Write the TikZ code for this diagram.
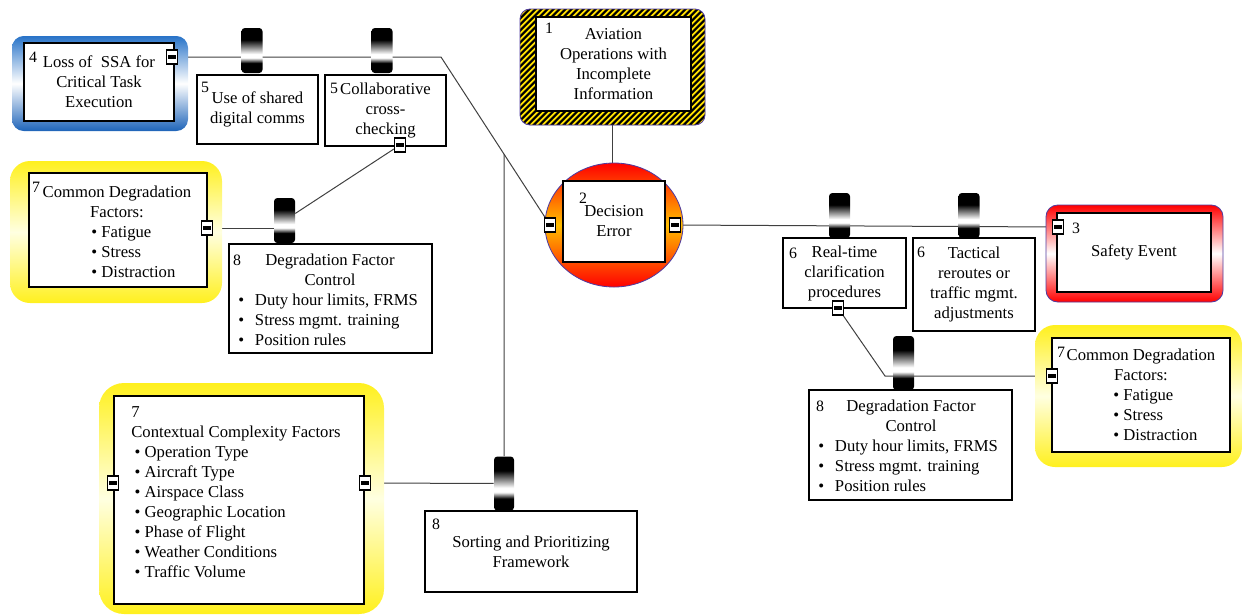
\documentclass[tikz,border=0pt]{standalone}
\usepackage{fontspec}
\setmainfont{Liberation Serif}
\usetikzlibrary{shapes.geometric,backgrounds}

% colours
\definecolor{hatchyellow}{RGB}{255,225,0}
\definecolor{rimblue}{RGB}{80,60,160}
\definecolor{hazorange}{RGB}{255,190,0}
\definecolor{frameblue}{RGB}{40,115,200}
\definecolor{frameblued}{RGB}{30,100,185}
\definecolor{frameyellow}{RGB}{255,240,30}
\definecolor{paleyellow}{RGB}{255,255,225}
% shading of the barrier bars (black - white - black)
\pgfdeclareverticalshading{barshade}{100bp}{color(0bp)=(black); color(36bp)=(black); color(42bp)=(white); color(46bp)=(white); color(62bp)=(black); color(100bp)=(black)}
\newcommand{\tabbullet}{\makebox[10pt][l]{\textbullet}}

\begin{document}
\begin{tikzpicture}[x=0.6pt, y=-0.6pt, font=\fontsize{10}{12}\selectfont,
    box/.style = {draw, line width=1.6pt, fill=white, inner sep=0pt, align=center},
    bar/.style = {rounded corners=2pt, shading=barshade, minimum width=12.6pt, minimum height=27pt, inner sep=0pt},
    mk/.style = {draw, line width=0.7pt, fill=white, minimum width=6.6pt, minimum height=8.4pt, inner sep=0pt,
        path picture={\fill[black] (path picture bounding box.center) ++(-2.3pt,-1pt) rectangle ++(4.6pt,2pt);}},
    hatch/.style = {draw=rimblue, line width=0.5pt, rounded corners=6pt, fill=black, inner sep=0pt,
        path picture={\foreach \k in {-80,-76.4,...,120}
            \draw[hatchyellow, line width=1.1pt] ([xshift=\k pt]path picture bounding box.south west) -- ++(80pt,80pt);}},
    hazard/.style = {ellipse, draw=rimblue, line width=0.5pt, inner sep=0pt,
        top color=red, bottom color=red, middle color=hazorange},
    bluef/.style = {rounded corners=7pt, inner sep=0pt, top color=frameblue, bottom color=frameblued, middle color=white},
    yellowf/.style = {rounded corners=12pt, inner sep=0pt, top color=frameyellow, bottom color=frameyellow, middle color=paleyellow},
    redf/.style = {draw=rimblue, line width=0.5pt, rounded corners=7pt, inner sep=0pt,
        top color=red, bottom color=red, middle color=white},
    num/.style = {inner sep=0pt, font=\fontsize{9.5}{11}\selectfont},
    txt/.style = {inner sep=0pt, align=center},
    lst/.style = {inner sep=0pt, align=left, anchor=west},
    wire/.style = {draw=black!75, line width=0.6pt}]

\useasboundingbox (0,0) rectangle (1243,615);

%Top event and hazard
\node[hatch, minimum width=111pt, minimum height=69.6pt] (1h) at (612.5,67) {};
\node[box, minimum width=93pt, minimum height=56.4pt] (1) at (613.5,64) {Aviation\\Operations with\\Incomplete\\Information};
\node[num] (n1) at (549,28) {1};
\node[hazard, minimum width=82.8pt, minimum height=74.4pt] (2c) at (614,225) {};
\node[box, minimum width=61.2pt, minimum height=48.6pt] (2) at (614,221.5) {Decision\\Error};
\node[num] (n2) at (583,198) {2};
\node[mk] (m2l) at (550,225) {};
\node[mk] (m2r) at (675,225) {};

%Threat with its barriers
\node[bluef, minimum width=105.6pt, minimum height=57pt] (4f) at (100,83.5) {};
\node[box, minimum width=90pt, minimum height=46.8pt] (4) at (99,82) {Loss of\ \ SSA for\\Critical Task\\Execution};
\node[num] (n4) at (33,57) {4};
\node[mk] (m4) at (172,57) {};
\node[box, minimum width=72.6pt, minimum height=41.4pt] (5) at (257.5,109.5) {Use of shared\\digital comms};
\node[num] (n5) at (205,87) {5};
\node[bar] (b5) at (252,50.5) {};
\node[box, minimum width=72.6pt, minimum height=42.6pt] (6) at (385.5,110.5) {Collaborative\\cross-\\checking};
\node[num] (n6) at (334,88) {5};
\node[bar] (b6) at (382,50.5) {};
\node[mk] (m6) at (400,145) {};

%Left degradation factor and its control
\node[yellowf, minimum width=127.2pt, minimum height=85.2pt] (9f) at (116,232) {};
\node[box, minimum width=106.8pt, minimum height=68.4pt] (9) at (118,230) {};
\node[num] (n9) at (36,187) {7};
\node[txt] (t9) at (117,202) {Common Degradation\\Factors:};
\node[lst] (l9) at (91,252) {\textbullet\ Fatigue\\\textbullet\ Stress\\\textbullet\ Distraction};
\node[mk] (m9) at (207,228) {};
\node[box, minimum width=121.8pt, minimum height=65.4pt] (10) at (330.5,298.5) {};
\node[num] (n10) at (237,260) {8};
\node[txt] (t10) at (330,270) {Degradation Factor\\Control};
\node[lst] (l10) at (238,320) {\tabbullet Duty hour limits, FRMS\\\tabbullet Stress mgmt. training\\\tabbullet Position rules};
\node[bar] (b10) at (284.5,220.5) {};

%Contextual factors and sorting control
\node[yellowf, rounded corners=15pt, minimum width=171pt, minimum height=138.6pt] (11f) at (241.5,498.5) {};
\node[box, minimum width=150pt, minimum height=124.8pt] (11) at (239,500) {};
\node[lst] (l11) at (131,492) {7\\Contextual Complexity Factors\\
    \hspace*{2pt}\textbullet\ Operation Type\\\hspace*{2pt}\textbullet\ Aircraft Type\\
    \hspace*{2pt}\textbullet\ Airspace Class\\\hspace*{2pt}\textbullet\ Geographic Location\\
    \hspace*{2pt}\textbullet\ Phase of Flight\\\hspace*{2pt}\textbullet\ Weather Conditions\\
    \hspace*{2pt}\textbullet\ Traffic Volume};
\node[mk] (m11l) at (113,483) {};
\node[mk] (m11r) at (365,483) {};
\node[box, minimum width=127.2pt, minimum height=48.6pt] (12) at (531,551.5) {Sorting and Prioritizing\\Framework};
\node[num] (n12) at (436,524) {8};
\node[bar, minimum width=12pt, minimum height=32.4pt] (b12) at (504,483.5) {};

%Consequence with its barriers
\node[box, minimum width=73.8pt, minimum height=42pt] (7) at (844.5,273) {Real-time\\clarification\\procedures};
\node[num] (n7) at (793,253) {6};
\node[bar] (b7) at (839.5,215.5) {};
\node[mk] (m7) at (838,308) {};
\node[box, minimum width=73.2pt, minimum height=55.8pt] (8) at (974,284.5) {Tactical\\reroutes or\\traffic mgmt.\\adjustments};
\node[num] (n8) at (921,252) {6};
\node[bar] (b8) at (969,215.5) {};
\node[redf, minimum width=106.2pt, minimum height=58.2pt] (3f) at (1134.5,253.5) {};
\node[box, minimum width=92.4pt, minimum height=47.4pt] (3) at (1134,252.5) {Safety Event};
\node[num] (n3) at (1076,228) {3};
\node[mk] (m3) at (1058,227) {};

%Right degradation factor and its control
\node[box, minimum width=121.8pt, minimum height=66pt] (13) at (910.5,445) {};
\node[num] (n13) at (820,406) {8};
\node[txt] (t13) at (911,416) {Degradation Factor\\Control};
\node[lst] (l13) at (818,466) {\tabbullet Duty hour limits, FRMS\\\tabbullet Stress mgmt. training\\\tabbullet Position rules};
\node[bar, minimum height=32.4pt] (b13) at (903.5,363) {};
\node[yellowf, minimum width=124.2pt, minimum height=85.2pt] (14f) at (1138.5,396) {};
\node[box, minimum width=106.8pt, minimum height=68.4pt] (14) at (1141,395) {};
\node[num] (n14) at (1061,352) {7};
\node[txt] (t14) at (1141,365) {Common Degradation\\Factors:};
\node[lst] (l14) at (1113,415) {\textbullet\ Fatigue\\\textbullet\ Stress\\\textbullet\ Distraction};
\node[mk] (m14) at (1052,376) {};

%Connectors
\begin{pgfonlayer}{background}
\coordinate (kl) at (441,57);
\coordinate (kr) at (885,376);
\draw[wire] (m4) -- (kl) -- (m2l); %Threat -> hazard
\draw[wire] (1h.south) -- (1h.south |- 2c.north); %Top event -> hazard
\draw[wire] (m2r) -- (m3); %Hazard -> safety event
\draw[wire] (m9) -- (m9 -| b10); %Factors -> control
\draw[wire] (m6) -- (b10); %Cross-checking -> control
\draw[wire] (m11r) -- (b12); %Contextual factors -> sorting
\draw[wire] (b12) -- (intersection of kl--m2l and b12.north--b12.south); %Sorting -> threat line
\draw[wire] (m7) -- (kr) -- (m14); %Real-time -> factors
\end{pgfonlayer}
\end{tikzpicture}
\end{document}
